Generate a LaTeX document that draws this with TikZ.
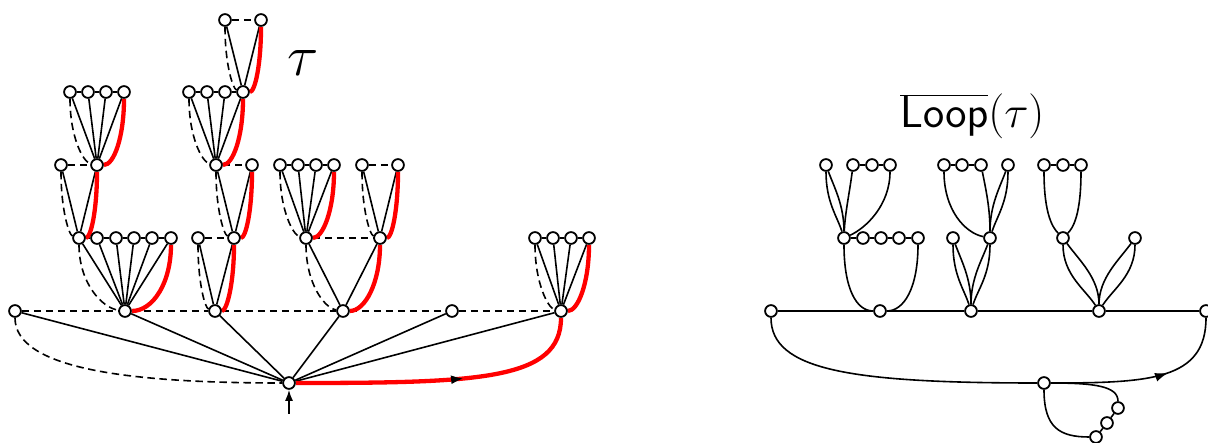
\RequirePackage{fix-cm}
\documentclass[tikz,border=0pt]{standalone}
\usetikzlibrary{arrows.meta,decorations.markings}
\pgfdeclarelayer{bg}
\pgfsetlayers{bg,main}
\newcommand\famly[6]{% parent, children, first, last, left offset, right offset
  \foreach \c in {#2} {\draw[ed] (#1) -- (\c);}
  \draw[dsh] (#3) .. controls +(0,45) and +(-#5,-3) .. (#1);
  \draw[rd] (#1) .. controls +(#6,0) and +(0,45) .. (#4);
}
% lens between upper #1 and lower #2; #3 = x offset of first control of the diagonal curve,
% #4 = x offset of second control of the vertical-start curve
\newcommand\lens[4]{%
  \draw[ed] (#1) .. controls +(0,37) and +(#4,-22) .. (#2);
  \draw[ed] (#1) .. controls +(#3,22) and +(0,-33) .. (#2);
}
\begin{document}
\begin{tikzpicture}[x=1pt,y=-1pt,
  vtx/.style={circle,draw,fill=white,line width=1.8pt,minimum size=11.8pt,inner sep=0pt},
  ed/.style={line width=1.6pt,black},
  dsh/.style={line width=1.6pt,black,dash pattern=on 7.5pt off 4.5pt},
  rd/.style={line width=4.3pt,red},
  midarrow/.style={postaction={decorate},decoration={markings,
     mark=at position #1 with {\arrow[black]{Latex[length=13pt,width=9pt]}}}}]
\useasboundingbox (0,0) rectangle (1208,443);

% ---------------- left tree ----------------
\node[vtx] (R) at (289,383) {};
\foreach \n/\x in {a1/15,a2/125,a3/215,a4/343,a5/452,a6/561} \node[vtx] (\n) at (\x,311) {};
\foreach \n/\x in {c1/79,c2/97,c3/116,c4/134,c5/152,c6/171,f1/198,f2/234,j1/306,j2/380,m1/535,m2/553,m3/571,m4/589} \node[vtx] (\n) at (\x,238) {};
\foreach \n/\x in {d1/61,d2/97,g1/216,g2/252,k1/280,k2/298,k3/316,k4/334,l1/362,l2/398} \node[vtx] (\n) at (\x,165) {};
\foreach \n/\x in {e1/70,e2/88,e3/106,e4/124,h1/189,h2/207,h3/225,h4/243} \node[vtx] (\n) at (\x,92) {};
\node[vtx] (i1) at (225,20) {};
\node[vtx] (i2) at (261,20) {};
\coordinate (ar) at (289,414);

\node[anchor=base west,inner sep=0pt] (tau) at (287,76) {\fontsize{58}{60}\selectfont$\tau$};

\begin{pgfonlayer}{bg}
  % root
  \foreach \c in {a1,a2,a3,a4,a5,a6} {\draw[ed] (R) -- (\c);}
  \draw[dsh] (a1) -- (a2) -- (a3) -- (a4) -- (a5) -- (a6);
  \draw[dsh] (a1) .. controls +(0,58) and +(-160,0) .. (R);
  \draw[rd,midarrow=0.57] (R) .. controls +(191,0) and +(0,69) .. (a6);
  \draw[ed,-{Latex[length=11pt,width=8pt]}] (ar) -- (R);
  % families
  \draw[dsh] (c1) -- (c2) -- (c3) -- (c4) -- (c5) -- (c6);
  \famly{a2}{c1,c2,c3,c4,c5,c6}{c1}{c6}{23}{28}
  \draw[dsh] (d1) -- (d2);
  \famly{c1}{d1,d2}{d1}{d2}{10}{12}
  \draw[dsh] (e1) -- (e2) -- (e3) -- (e4);
  \famly{d2}{e1,e2,e3,e4}{e1}{e4}{14}{17}
  \draw[dsh] (f1) -- (f2);
  \famly{a3}{f1,f2}{f1}{f2}{10}{12}
  \draw[dsh] (g1) -- (g2);
  \famly{f2}{g1,g2}{g1}{g2}{10}{12}
  \draw[dsh] (h1) -- (h2) -- (h3) -- (h4);
  \famly{g1}{h1,h2,h3,h4}{h1}{h4}{14}{17}
  \draw[dsh] (i1) -- (i2);
  \famly{h4}{i1,i2}{i1}{i2}{10}{12}
  \draw[dsh] (j1) -- (j2);
  \famly{a4}{j1,j2}{j1}{j2}{19}{22}
  \draw[dsh] (k1) -- (k2) -- (k3) -- (k4);
  \famly{j1}{k1,k2,k3,k4}{k1}{k4}{13}{17}
  \draw[dsh] (l1) -- (l2);
  \famly{j2}{l1,l2}{l1}{l2}{10}{12}
  \draw[dsh] (m1) -- (m2) -- (m3) -- (m4);
  \famly{a6}{m1,m2,m3,m4}{m1}{m4}{13}{17}
\end{pgfonlayer}

% ---------------- right picture ----------------
\foreach \n/\x in {r1/771,r2/880,r3/971,r4/1099,r5/1206} \node[vtx] (\n) at (\x,311) {};
\foreach \n/\x in {p1/844,p2/863,p3/881,p4/899,p5/918,t1/953,t2/990,v1/1063,v2/1135} \node[vtx] (\n) at (\x,238) {};
\foreach \n/\x in {q1/826,q2/853,q3/872,q4/890,u1/944,u2/962,u3/981,u4/1008,w1/1044,w2/1063,w3/1081} \node[vtx] (\n) at (\x,165) {};
\node[vtx] (L) at (1044,383) {};
\node[vtx] (s1) at (1096,437) {};
\node[vtx] (s2) at (1107,423) {};
\node[vtx] (s3) at (1118,408) {};

\node[anchor=base west,inner sep=0pt] (loop) at (900,128) {\fontsize{45}{48}\selectfont$\overline{\mathsf{Loop}}(\tau)$};

\begin{pgfonlayer}{bg}
  \draw[ed] (r1) -- (r2) -- (r3) -- (r4) -- (r5);
  \draw[ed] (r1) .. controls +(0,59) and +(-194,0) .. (L);
  \draw[ed,midarrow=0.62] (L) .. controls +(106,0) and +(0,69) .. (r5);
  \draw[ed] (L) .. controls +(0,45) and +(-36,0) .. (s1);
  \draw[ed] (L) .. controls +(50,0) and +(0,-22) .. (s3);
  \draw[ed] (s1) -- (s2) -- (s3);
  % r2 group
  \draw[ed] (p1) -- (p2) -- (p3) -- (p4) -- (p5);
  \draw[ed] (p1) .. controls +(0,50) and +(-24,0) .. (r2);
  \draw[ed] (r2) .. controls +(24,0) and +(0,50) .. (p5);
  \lens{q1}{p1}{8}{-7}
  \draw[ed] (q2) -- (q3) -- (q4);
  \draw[ed] (q2) .. controls +(-3,25) and +(1,-25) .. (p1);
  \draw[ed] (q4) .. controls +(0,40) and +(22,-10) .. (p1);
  % r3 group
  \lens{t1}{r3}{8}{-7}
  \lens{t2}{r3}{-8}{7}
  \draw[ed] (u1) -- (u2) -- (u3);
  \draw[ed] (u1) .. controls +(0,45) and +(-25,-5) .. (t2);
  \draw[ed] (u3) .. controls +(5,25) and +(0,-30) .. (t2);
  \lens{u4}{t2}{-8}{7}
  % r4 group
  \lens{v1}{r4}{16}{-14}
  \lens{v2}{r4}{-16}{14}
  \draw[ed] (w1) -- (w2) -- (w3);
  \draw[ed] (w1) .. controls +(0,50) and +(-10,-10) .. (v1);
  \draw[ed] (w3) .. controls +(0,50) and +(10,-10) .. (v1);
\end{pgfonlayer}
\end{tikzpicture}
\end{document}
